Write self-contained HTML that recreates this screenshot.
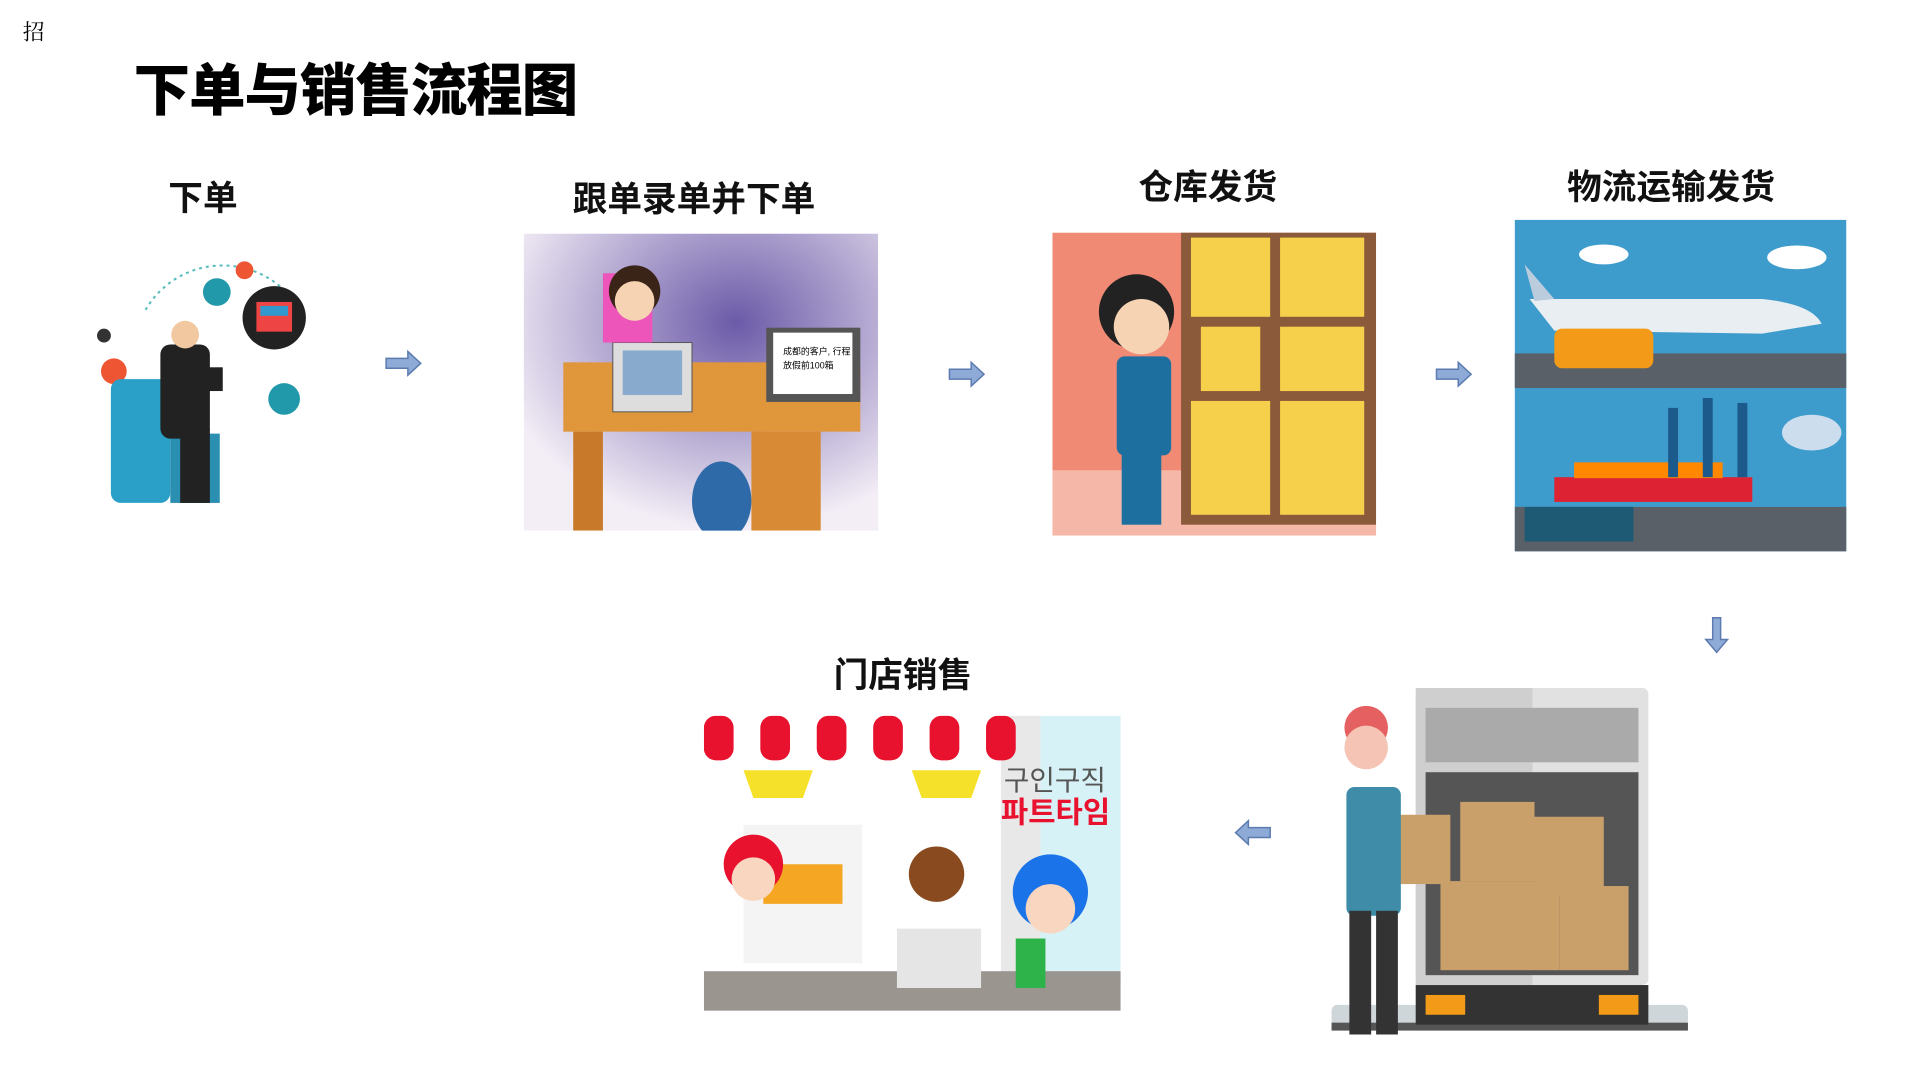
<!DOCTYPE html>
<html><head><meta charset="utf-8"><style>
body{margin:0;width:1919px;height:1080px;background:#fff;position:relative;overflow:hidden;font-family:"Liberation Sans","Noto Sans CJK SC",sans-serif}
#w{position:absolute;left:0;top:0;width:1919px;height:1080px;transform:scale(0.99);transform-origin:0 0}
.a{position:absolute}
.lbl{position:absolute;font-weight:bold;font-size:35px;color:#111;white-space:nowrap;transform:translateX(-50%)}
</style></head><body><div id="w">
<div class="a" style="left:23px;top:16px;font-size:22px;font-family:'Noto Serif CJK SC',serif">招</div>
<div class="a" style="left:135px;top:46px;font-size:57px;font-weight:900;letter-spacing:-1px">下单与销售流程图</div>

<div class="lbl" style="left:205px;top:172px">下单</div>
<div class="lbl" style="left:701px;top:173px">跟单录单并下单</div>
<div class="lbl" style="left:1220px;top:161px">仓库发货</div>
<div class="lbl" style="left:1688px;top:161px">物流运输发货</div>
<div class="lbl" style="left:912px;top:654px">门店销售</div>

<svg class="a" style="left:87px;top:253px" width="247" height="264" viewBox="0 0 247 264">
<path d="M60 60 A90 90 0 0 1 200 40" stroke="#5bb" stroke-dasharray="3 4" fill="none" stroke-width="2"/>
<circle cx="190" cy="68" r="32" fill="#222"/><rect x="172" y="52" width="36" height="30" fill="#e44"/><rect x="176" y="56" width="28" height="10" fill="#39c"/>
<circle cx="132" cy="42" r="14" fill="#29a"/><circle cx="160" cy="20" r="9" fill="#e53"/>
<circle cx="200" cy="150" r="16" fill="#29a"/><circle cx="28" cy="122" r="13" fill="#e53"/><circle cx="18" cy="86" r="7" fill="#333"/>
<rect x="25" y="130" width="60" height="125" rx="10" fill="#2aa0c8"/>
<rect x="85" y="185" width="50" height="70" fill="#2a8fb0"/>
<rect x="75" y="95" width="50" height="95" rx="10" fill="#222"/><circle cx="100" cy="85" r="14" fill="#f1c8a0"/>
<rect x="95" y="180" width="30" height="75" fill="#222"/><rect x="122" y="118" width="16" height="24" fill="#222"/>
</svg>

<svg class="a" style="left:529px;top:236px" width="358" height="300" viewBox="0 0 358 300">
<defs><radialGradient id="g1" cx="0.6" cy="0.3" r="0.7"><stop offset="0" stop-color="#6b5aa8"/><stop offset="1" stop-color="#f3eef6"/></radialGradient></defs>
<rect width="358" height="300" fill="url(#g1)"/>
<rect x="40" y="130" width="300" height="70" fill="#e0963a"/><rect x="50" y="200" width="30" height="100" fill="#c87a2a"/><rect x="230" y="200" width="70" height="100" fill="#d88a34"/>
<rect x="90" y="110" width="80" height="70" fill="#ddd" stroke="#555"/><rect x="100" y="118" width="60" height="45" fill="#8ac"/>
<rect x="245" y="95" width="95" height="75" fill="#555"/><rect x="252" y="100" width="80" height="62" fill="#fff"/>
<text x="262" y="122" font-size="9">成都的客户, 行程</text><text x="262" y="136" font-size="9">放假前100箱</text>
<rect x="80" y="40" width="50" height="70" fill="#e5b"/><circle cx="112" cy="58" r="26" fill="#3a2418"/><circle cx="112" cy="68" r="20" fill="#f5d3b3"/>
<ellipse cx="200" cy="270" rx="30" ry="40" fill="#2f6aa8"/>
</svg>

<svg class="a" style="left:1063px;top:235px" width="327" height="306" viewBox="0 0 327 306">
<rect width="327" height="306" fill="#f08a74"/><rect x="0" y="240" width="327" height="66" fill="#f5b8a8"/>
<rect x="130" y="0" width="197" height="295" fill="#8a5a3a"/>
<g fill="#f6d04a"><rect x="140" y="5" width="80" height="80"/><rect x="230" y="5" width="85" height="80"/><rect x="150" y="95" width="60" height="65"/><rect x="230" y="95" width="85" height="65"/><rect x="140" y="170" width="80" height="115"/><rect x="230" y="170" width="85" height="115"/></g>
<circle cx="85" cy="80" r="38" fill="#222"/><circle cx="90" cy="95" r="28" fill="#f5d3b3"/>
<rect x="65" y="125" width="55" height="100" rx="8" fill="#1d6fa0"/><rect x="70" y="220" width="40" height="75" fill="#1d6fa0"/>
</svg>

<svg class="a" style="left:1530px;top:222px" width="335" height="335" viewBox="0 0 335 335">
<rect width="335" height="335" fill="#3e9ccc"/><rect y="135" width="335" height="35" fill="#5a6068"/>
<rect y="290" width="335" height="45" fill="#5a6068"/>
<path d="M15 80 L250 80 Q300 85 310 105 L250 115 L40 112 Z" fill="#e8eef2"/><path d="M10 45 L40 80 L20 82Z" fill="#bcd"/>
<rect x="40" y="110" width="100" height="40" rx="8" fill="#f39a18"/>
<rect x="40" y="260" width="200" height="25" fill="#d23"/><rect x="60" y="245" width="150" height="16" fill="#f80"/>
<rect x="155" y="190" width="10" height="70" fill="#1b5a8a"/><rect x="190" y="180" width="10" height="80" fill="#1b5a8a"/><rect x="225" y="185" width="10" height="75" fill="#1b5a8a"/>
<rect x="10" y="290" width="110" height="35" fill="#1f5a74"/>
<ellipse cx="90" cy="35" rx="25" ry="10" fill="#fff"/><ellipse cx="285" cy="38" rx="30" ry="12" fill="#fff"/><ellipse cx="300" cy="215" rx="30" ry="18" fill="#cde"/>
</svg>

<svg class="a" style="left:1335px;top:695px" width="373" height="350" viewBox="0 0 373 350">
<rect x="10" y="320" width="360" height="22" rx="6" fill="#cfd6d9"/><rect x="10" y="338" width="360" height="8" fill="#555"/>
<rect x="95" y="0" width="235" height="300" rx="6" fill="#e1e1e1"/><rect x="95" y="0" width="118" height="300" fill="#cfcfcf"/>
<rect x="105" y="20" width="215" height="55" fill="#aaa"/>
<rect x="105" y="85" width="215" height="205" fill="#555"/>
<g fill="#c9a06a"><rect x="140" y="115" width="75" height="80"/><rect x="215" y="130" width="70" height="80"/><rect x="120" y="195" width="120" height="90"/><rect x="240" y="200" width="70" height="85"/><rect x="40" y="128" width="90" height="70"/></g>
<rect x="95" y="300" width="235" height="40" fill="#333"/><rect x="105" y="310" width="40" height="20" fill="#f39a18"/><rect x="280" y="310" width="40" height="20" fill="#f39a18"/>
<circle cx="45" cy="40" r="22" fill="#e56060"/><circle cx="45" cy="60" r="22" fill="#f5c4b4"/>
<rect x="25" y="100" width="55" height="130" rx="8" fill="#3e8ca8"/><rect x="28" y="225" width="22" height="125" fill="#333"/><rect x="55" y="225" width="22" height="125" fill="#333"/>
</svg>

<svg class="a" style="left:711px;top:723px" width="421" height="298" viewBox="0 0 421 298">
<rect width="421" height="298" fill="#fff"/><rect x="330" y="0" width="91" height="270" fill="#d7f2f6"/><rect x="300" y="0" width="40" height="270" fill="#e8e8e8"/>
<g fill="#e8112e"><rect x="0" y="0" width="30" height="45" rx="12"/><rect x="57" y="0" width="30" height="45" rx="12"/><rect x="114" y="0" width="30" height="45" rx="12"/><rect x="171" y="0" width="30" height="45" rx="12"/><rect x="228" y="0" width="30" height="45" rx="12"/><rect x="285" y="0" width="30" height="45" rx="12"/></g>
<path d="M40 55 L110 55 L100 83 L50 83Z" fill="#f5e02a"/><path d="M210 55 L280 55 L270 83 L220 83Z" fill="#f5e02a"/>
<text x="303" y="75" font-size="28" fill="#555">구인구직</text><text x="300" y="108" font-size="30" font-weight="bold" fill="#e8112e">파트타임</text>
<rect x="40" y="110" width="120" height="140" fill="#f4f4f4"/><rect x="60" y="150" width="80" height="40" fill="#f5a623"/>
<rect x="0" y="258" width="421" height="40" fill="#9b9590"/>
<circle cx="50" cy="150" r="30" fill="#e8112e"/><circle cx="50" cy="165" r="22" fill="#f8d6c0"/>
<circle cx="235" cy="160" r="28" fill="#8a4a20"/><rect x="195" y="215" width="85" height="60" fill="#e5e5e5"/>
<circle cx="350" cy="178" r="38" fill="#1a73e8"/><circle cx="350" cy="195" r="25" fill="#f8d6c0"/><rect x="315" y="225" width="30" height="50" fill="#2db34a"/>
</svg>

<svg class="a" style="left:0;top:0" width="1919" height="1080">
<g fill="#8eaad6" stroke="#5b7bb0" stroke-width="1.5">
<path d="M390 362 h22 v-7 l13 12 l-13 12 v-7 h-22z"/>
<path d="M959 373 h22 v-7 l13 12 l-13 12 v-7 h-22z"/>
<path d="M1451 373 h22 v-7 l13 12 l-13 12 v-7 h-22z"/>
<path d="M1730 624 v22 h-7 l11 13 l11 -13 h-7 v-22z"/>
<path d="M1283 836 h-22 v-7 l-13 12 l13 12 v-7 h22z"/>
</g></svg>
</div></body></html>
